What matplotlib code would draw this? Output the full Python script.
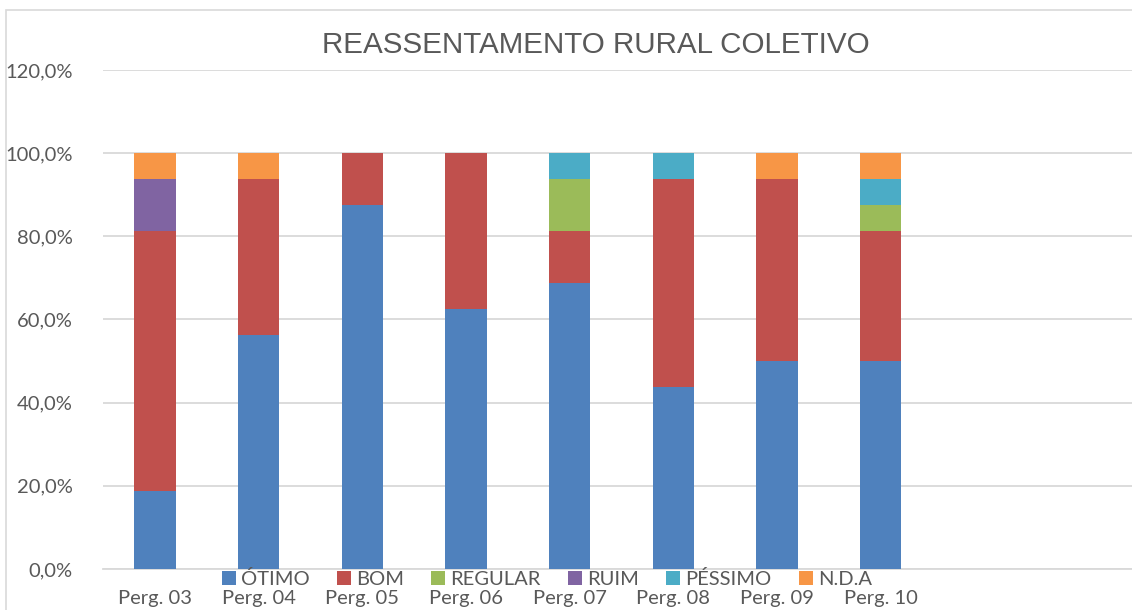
import numpy as np
import matplotlib.pyplot as plt
from matplotlib.patches import Rectangle
from matplotlib.ticker import FuncFormatter

# data (percent of answers)
perguntas = ["Perg. 03", "Perg. 04", "Perg. 05", "Perg. 06",
             "Perg. 07", "Perg. 08", "Perg. 09", "Perg. 10"]
otimo = [18.75, 56.25, 87.5, 62.5, 68.75, 43.75, 50.0, 50.0]
bom = [62.5, 37.5, 12.5, 37.5, 12.5, 50.0, 43.75, 31.25]
regular = [0, 0, 0, 0, 12.5, 0, 0, 6.25]
ruim = [12.5, 0, 0, 0, 0, 0, 0, 0]
pessimo = [0, 0, 0, 0, 6.25, 6.25, 0, 6.25]
nda = [6.25, 6.25, 0, 0, 0, 0, 6.25, 6.25]

series = [("ÓTIMO", otimo, "#4F81BD"),
          ("BOM", bom, "#C0504D"),
          ("REGULAR", regular, "#9BBB59"),
          ("RUIM", ruim, "#8064A2"),
          ("PÉSSIMO", pessimo, "#4BACC6"),
          ("N.D.A", nda, "#F79646")]

W, H = 1132, 610
fig = plt.figure(figsize=(W / 100, H / 100), dpi=100)
txt = "#595959"
grid = "#D9D9D9"

# chart area border (cut by the screenshot on right and bottom)
fig.patches.append(Rectangle((6 / W, -0.1), 2, 1.1 - 10 / H, transform=fig.transFigure,
                             fill=False, edgecolor=grid, linewidth=1.2))

ax = fig.add_axes([103 / W, 1 - 569 / H, 1037 / W, (569 - 70) / H])

x = np.arange(len(perguntas))
bottom = np.zeros(len(perguntas))
for name, vals, col in series:
    vals = np.array(vals)
    ax.bar(x, vals, 0.4, bottom=bottom, color=col, label=name, zorder=3)
    bottom += vals

ax.set_xlim(-0.5, 9.5)
ax.set_ylim(0, 120)
ax.set_yticks(np.arange(0, 121, 20))
ax.yaxis.set_major_formatter(FuncFormatter(lambda v, p: f"{v:.1f}%".replace(".", ",")))
ax.set_xticks(x)
ax.set_xticklabels(perguntas)
ax.tick_params(axis="both", length=0, labelcolor=txt, labelsize=14.5)
ax.tick_params(axis="y", pad=22)
ax.tick_params(axis="x", pad=15)
for lab in ax.get_xticklabels() + ax.get_yticklabels():
    lab.set_family("Lato")
ax.grid(axis="y", color=grid, linewidth=1.3, zorder=0)
for s in ["top", "right", "left"]:
    ax.spines[s].set_visible(False)
ax.spines["bottom"].set_color(grid)
ax.spines["bottom"].set_linewidth(1.3)

fig.text(596 / W, 1 - 45 / H, "REASSENTAMENTO RURAL COLETIVO", ha="center", va="center",
         fontsize=21.3, color=txt, family="Liberation Sans")

leg = fig.legend(loc="center", bbox_to_anchor=(547 / W, 1 - 579 / H), ncol=6,
                 frameon=False, prop={"family": "Lato", "size": 14.5},
                 handlelength=0.7, handleheight=0.7, handletextpad=0.25,
                 columnspacing=1.35, borderpad=0, borderaxespad=0)
for t in leg.get_texts():
    t.set_color(txt)

fig.savefig("out.png", dpi=100)
